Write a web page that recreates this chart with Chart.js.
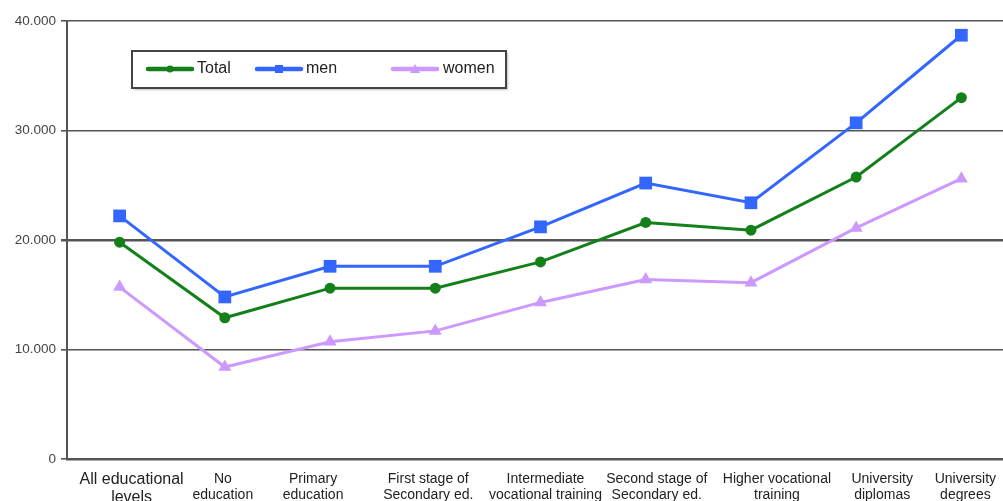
<!DOCTYPE html>
<html>
<head>
<meta charset="utf-8">
<script src="https://cdn.jsdelivr.net/npm/chart.js@4/dist/chart.umd.min.js"></script>
<style>
  html, body { margin: 0; padding: 0; background: #fff; overflow: hidden; }
  #wrap { position: absolute; left: 0; top: 0; width: 1023px; height: 501px; }
</style>
</head>
<body>
<div id="wrap"><canvas id="c" width="1023" height="501"></canvas></div>
<script>
// Education levels (x categories)
const categories = [
  ["All educational", "levels"],
  ["No", "education"],
  ["Primary", "education"],
  ["First stage of", "Secondary ed."],
  ["Intermediate", "vocational training"],
  ["Second stage of", "Secondary ed."],
  ["Higher vocational", "training"],
  ["University", "diplomas"],
  ["University", "degrees"]
];

// Average annual earnings by education level
const totalValues = [19800, 12900, 15600, 15600, 18000, 21600, 20900, 25750, 33000];
const menValues   = [22200, 14800, 17600, 17600, 21200, 25200, 23400, 30700, 38700];
const womenValues = [15700, 8400, 10700, 11700, 14300, 16400, 16100, 21100, 25600];

const seriesNames = ["Total", "men", "women"];
const yTicks = [0, 10000, 20000, 30000, 40000];

function fmt(v) {
  return String(v).replace(/\B(?=(\d{3})+(?!\d))/g, ".");
}

const FONT = "'Liberation Sans', Arial, sans-serif";

// Category captions are laid out as free text boxes under the axis,
// each nudged sideways from its category centre.
const captionNudge = [12, -2, -17, -7, 5, 11, 26, 26, 4];

const categoryCaptions = {
  id: "categoryCaptions",
  afterDraw(chart) {
    const ctx = chart.ctx;
    const xs = chart.scales.x;
    const base = xs.top;
    ctx.save();
    ctx.fillStyle = "#222";
    ctx.textAlign = "center";
    ctx.textBaseline = "alphabetic";
    chart.data.labels.forEach((lines, i) => {
      const big = i === 0;
      ctx.font = (big ? 16 : 14) + "px " + FONT;
      const x = xs.getPixelForValue(i) + captionNudge[i];
      const first = base + (big ? 25 : 24);
      const step = big ? 18 : 16;
      lines.forEach((t, k) => ctx.fillText(t, x, first + k * step));
    });
    ctx.restore();
  }
};

// Boxed legend drawn in the upper-left of the plot
const boxLegend = {
  id: "boxLegend",
  afterDraw(chart) {
    const ctx = chart.ctx;
    const box = { x: 132, y: 51, w: 374, h: 37 };
    ctx.save();
    ctx.shadowColor = "rgba(0,0,0,0.25)";
    ctx.shadowOffsetX = 2;
    ctx.shadowOffsetY = 2;
    ctx.shadowBlur = 2;
    ctx.fillStyle = "#fff";
    ctx.fillRect(box.x, box.y, box.w, box.h);
    ctx.restore();
    ctx.save();
    ctx.strokeStyle = "#444";
    ctx.lineWidth = 2;
    ctx.strokeRect(box.x, box.y, box.w, box.h);
    const items = [
      { lx: 148, tx: 197 },
      { lx: 257, tx: 306 },
      { lx: 393, tx: 443 }
    ];
    const cy = 69;
    chart.data.datasets.forEach((ds, i) => {
      const it = items[i];
      ctx.strokeStyle = ds.borderColor;
      ctx.lineWidth = 4.5;
      ctx.lineCap = "round";
      ctx.beginPath();
      ctx.moveTo(it.lx, cy);
      ctx.lineTo(it.lx + 44, cy);
      ctx.stroke();
      ctx.fillStyle = ds.borderColor;
      ctx.beginPath();
      if (ds.pointStyle === "circle") {
        ctx.arc(it.lx + 22, cy, 3.5, 0, Math.PI * 2);
      } else if (ds.pointStyle === "rect") {
        ctx.rect(it.lx + 18, cy - 4, 8, 8);
      } else {
        ctx.moveTo(it.lx + 22, cy - 5);
        ctx.lineTo(it.lx + 27, cy + 4);
        ctx.lineTo(it.lx + 17, cy + 4);
        ctx.closePath();
      }
      ctx.fill();
      ctx.fillStyle = "#222";
      ctx.font = "16px " + FONT;
      ctx.textBaseline = "middle";
      ctx.textAlign = "left";
      ctx.fillText(ds.label, it.tx, cy);
    });
    ctx.restore();
  }
};

new Chart(document.getElementById("c"), {
  type: "line",
  data: {
    labels: categories,
    datasets: [
      {
        label: seriesNames[0],
        data: totalValues,
        borderColor: "#13801a",
        backgroundColor: "#13801a",
        borderWidth: 3,
        pointStyle: "circle",
        pointRadius: 5.5,
        pointBorderWidth: 0,
        tension: 0
      },
      {
        label: seriesNames[1],
        data: menValues,
        borderColor: "#3366ff",
        backgroundColor: "#3366ff",
        borderWidth: 3,
        pointStyle: "rect",
        pointRadius: 9,
        pointBorderWidth: 0,
        tension: 0
      },
      {
        label: seriesNames[2],
        data: womenValues,
        borderColor: "#cc99ff",
        backgroundColor: "#cc99ff",
        borderWidth: 3,
        pointStyle: "triangle",
        pointRadius: 7.5,
        pointBorderWidth: 0,
        tension: 0
      }
    ]
  },
  options: {
    responsive: false,
    animation: false,
    events: [],
    layout: { padding: { top: 21, left: 0, right: 9, bottom: 0 } },
    plugins: {
      legend: { display: false },
      tooltip: { enabled: false }
    },
    scales: {
      x: {
        type: "category",
        offset: true,
        grid: { display: false, drawTicks: false },
        border: { display: true, color: "#555", width: 2.5 },
        ticks: { display: false },
        afterFit(scale) { scale.height = 42; }
      },
      y: {
        min: 0,
        max: 40000,
        afterBuildTicks(scale) {
          scale.ticks = yTicks.map(v => ({ value: v }));
        },
        grid: {
          color: "#555",
          lineWidth: (ctx) => (ctx.tick && ctx.tick.value === 20000 ? 2.5 : 1.6),
          drawTicks: true,
          tickLength: 6,
          tickColor: "#555"
        },
        border: { display: true, color: "#555", width: 2 },
        ticks: {
          padding: 5,
          color: "#444",
          font: { family: FONT, size: 13.5 },
          callback: (v) => fmt(v)
        },
        afterFit(scale) { scale.width = 67; }
      }
    }
  },
  plugins: [boxLegend, categoryCaptions]
});
</script>
</body>
</html>
